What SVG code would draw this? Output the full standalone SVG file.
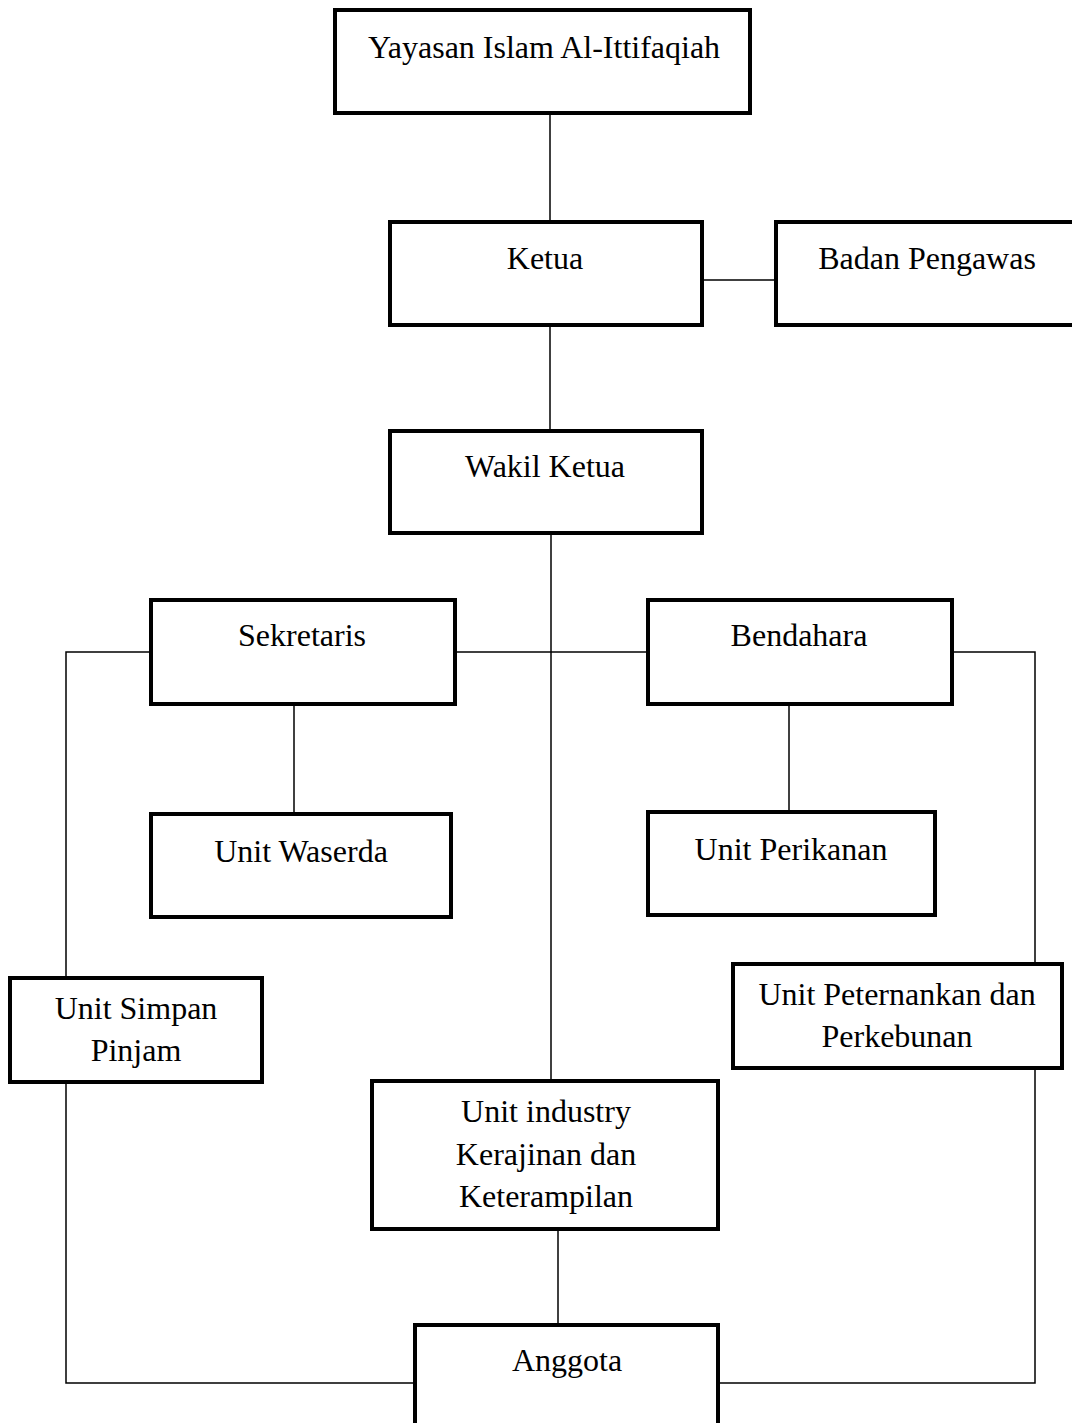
<svg xmlns="http://www.w3.org/2000/svg" width="1072" height="1423" viewBox="0 0 1072 1423">
<style>
.box{fill:#fff;stroke:#000;stroke-width:4}
.ln{fill:none;stroke:#000;stroke-width:1.5}
text{font-family:"Liberation Serif","Times New Roman",serif;font-size:32px;fill:#000;text-anchor:middle}
</style>
<rect width="1072" height="1423" fill="#fff"/>
<g id="connectors">
<path class="ln" d="M550 113V222"/>
<path class="ln" d="M550 325V431"/>
<path class="ln" d="M702 280H776"/>
<path class="ln" d="M551 533V1081"/>
<path class="ln" d="M455 652H648"/>
<path class="ln" d="M151 652H66V978"/>
<path class="ln" d="M66 1082V1383H415"/>
<path class="ln" d="M952 652H1035V964"/>
<path class="ln" d="M1035 1068V1383H718"/>
<path class="ln" d="M294 704V814"/>
<path class="ln" d="M789 704V812"/>
<path class="ln" d="M558 1229V1325"/>
</g>
<g id="yayasan"><rect class="box" x="335" y="10" width="415" height="103"/><text x="544" y="58">Yayasan Islam Al-Ittifaqiah</text></g>
<g id="ketua"><rect class="box" x="390" y="222" width="312" height="103"/><text x="545" y="269">Ketua</text></g>
<g id="badan-pengawas"><rect class="box" x="776" y="222" width="310" height="103"/><text x="927" y="269">Badan Pengawas</text></g>
<g id="wakil-ketua"><rect class="box" x="390" y="431" width="312" height="102"/><text x="545" y="477">Wakil Ketua</text></g>
<g id="sekretaris"><rect class="box" x="151" y="600" width="304" height="104"/><text x="302" y="646">Sekretaris</text></g>
<g id="bendahara"><rect class="box" x="648" y="600" width="304" height="104"/><text x="799" y="646">Bendahara</text></g>
<g id="unit-waserda"><rect class="box" x="151" y="814" width="300" height="103"/><text x="301" y="862">Unit Waserda</text></g>
<g id="unit-perikanan"><rect class="box" x="648" y="812" width="287" height="103"/><text x="791" y="860">Unit Perikanan</text></g>
<g id="unit-simpan-pinjam"><rect class="box" x="10" y="978" width="252" height="104"/><text x="136" y="1019">Unit Simpan</text><text x="136" y="1061">Pinjam</text></g>
<g id="unit-peternakan"><rect class="box" x="733" y="964" width="329" height="104"/><text x="897" y="1005">Unit Peternankan dan</text><text x="897" y="1047">Perkebunan</text></g>
<g id="unit-industry"><rect class="box" x="372" y="1081" width="346" height="148"/><text x="546" y="1122">Unit industry</text><text x="546" y="1165">Kerajinan dan</text><text x="546" y="1207">Keterampilan</text></g>
<g id="anggota"><rect class="box" x="415" y="1325" width="303" height="110"/><text x="567" y="1371">Anggota</text></g>
</svg>
